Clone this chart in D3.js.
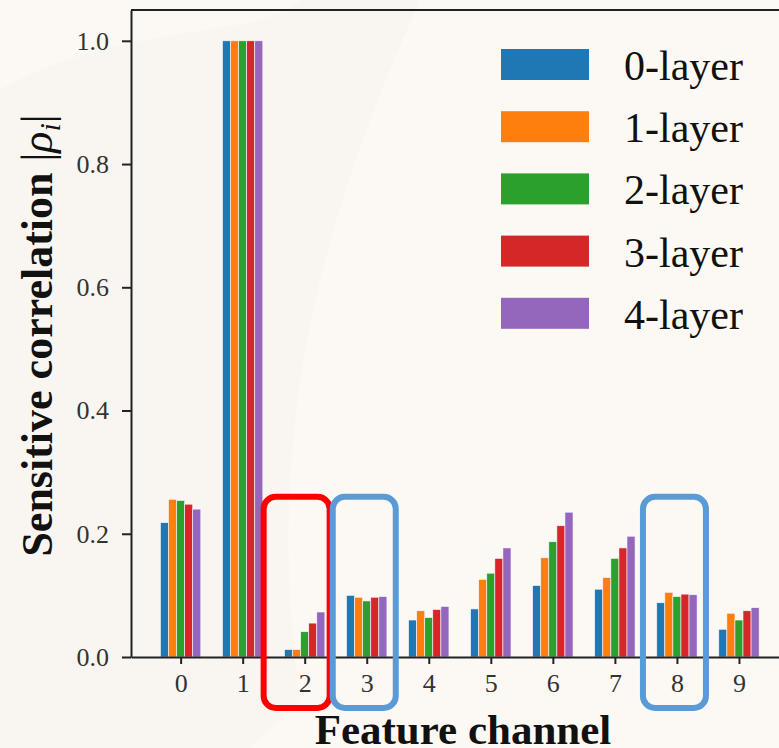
<!DOCTYPE html>
<html>
<head>
<meta charset="utf-8">
<script src="https://cdn.jsdelivr.net/npm/d3@7"></script>
<style>
  html, body { margin: 0; padding: 0; background: #fcf9f4; }
  #chart svg { display: block; }
  .axis path, .axis line { stroke: #222; stroke-width: 2px; }
</style>
</head>
<body>
<div id="chart"></div>
<script>
// values
var channels = [0, 1, 2, 3, 4, 5, 6, 7, 8, 9];
var layers = ["0-layer", "1-layer", "2-layer", "3-layer", "4-layer"];
var layer0 = [0.218, 1.0, 0.012, 0.100, 0.060, 0.078, 0.116, 0.110, 0.088, 0.045];
var layer1 = [0.256, 1.0, 0.012, 0.097, 0.075, 0.126, 0.161, 0.129, 0.105, 0.071];
var layer2 = [0.254, 1.0, 0.041, 0.091, 0.064, 0.136, 0.187, 0.160, 0.098, 0.060];
var layer3 = [0.248, 1.0, 0.055, 0.097, 0.077, 0.160, 0.213, 0.177, 0.102, 0.075];
var layer4 = [0.240, 1.0, 0.073, 0.098, 0.082, 0.177, 0.235, 0.196, 0.101, 0.080];
var yTicks = [0.0, 0.2, 0.4, 0.6, 0.8, 1.0];
var redBoxes = [2];
var blueBoxes = [3, 8];

(function(d3) {
	var widthSVG = 779;
	var heightSVG = 748;
	var left = 131, right = 788.6, top = 10, bottom = 657;
	var barWidth = 0.13;
	var serif = "Liberation Serif, Times New Roman, serif";
	var colors = ["#1f77b4", "#ff7f0e", "#2ca02c", "#d62728", "#9467bd"];
	var series = [layer0, layer1, layer2, layer3, layer4];

	var svg = d3.select("#chart")
		.append("svg")
		.attr("width", widthSVG)
		.attr("height", heightSVG);

	svg.append("rect")
		.attr("width", widthSVG)
		.attr("height", heightSVG)
		.attr("fill", "#fcf9f4");

	// faint watermark swooshes in the background
	svg.append("path")
		.attr("d", "M0,90 C120,20 260,40 300,0 L420,0 C330,200 260,420 300,700 L250,748 L0,748 Z")
		.attr("fill", "#f6f4f0")
		.attr("opacity", 0.6);

	var xScale = d3.scaleLinear()
		.domain([-0.8, 9.8])
		.range([left, right]);

	var yScale = d3.scaleLinear()
		.domain([0, 1.05])
		.range([bottom, top]);

	var pxPerUnit = xScale(1) - xScale(0);

// BARS
	var data = [];
	series.forEach(function(s, j) {
		s.forEach(function(v, i) {
			data.push({ layer: j, channel: channels[i], value: v });
		});
	});

	svg.selectAll("rect.bar")
		.data(data)
		.enter()
		.append("rect")
		.attr("class", "bar")
		.attr("x", function(d) { return xScale(d.channel + (d.layer - 2.5) * barWidth); })
		.attr("y", function(d) { return yScale(d.value); })
		.attr("width", barWidth * pxPerUnit)
		.attr("height", function(d) { return yScale(0) - yScale(d.value); })
		.attr("fill", function(d) { return colors[d.layer]; })
		.attr("stroke", "#fbf6ff")
		.attr("stroke-width", 0.6);

// AXIS X
	var xAxis = d3.axisBottom(xScale)
		.tickValues(channels)
		.tickFormat(d3.format("d"))
		.tickSizeInner(7)
		.tickSizeOuter(0)
		.tickPadding(10);

	svg.append("g")
		.attr("class", "axis")
		.attr("transform", "translate(0," + bottom + ")")
		.call(xAxis)
		.selectAll("text")
		.attr("font-family", serif)
		.attr("font-size", "26px")
		.attr("fill", "#333");

// AXIS Y
	var yAxis = d3.axisLeft(yScale)
		.tickValues(yTicks)
		.tickFormat(d3.format(".1f"))
		.tickSizeInner(9)
		.tickSizeOuter(0)
		.tickPadding(13);

	svg.append("g")
		.attr("class", "axis")
		.attr("transform", "translate(" + left + ",0)")
		.call(yAxis)
		.selectAll("text")
		.attr("font-family", serif)
		.attr("font-size", "26px")
		.attr("fill", "#333");

	// top spine
	svg.append("line")
		.attr("x1", left).attr("x2", right)
		.attr("y1", top).attr("y2", top)
		.attr("stroke", "#222")
		.attr("stroke-width", 2);

// LABELS
	svg.append("text")
		.attr("x", 463)
		.attr("y", 744)
		.attr("text-anchor", "middle")
		.attr("font-family", serif)
		.attr("font-weight", "bold")
		.attr("font-size", "43px")
		.attr("fill", "#111")
		.text("Feature channel");

	var yl = svg.append("text")
		.attr("transform", "translate(52," + ((top + bottom) / 2 + 2) + ") rotate(-90)")
		.attr("text-anchor", "middle")
		.attr("font-family", serif)
		.attr("font-size", "44px")
		.attr("fill", "#111");
	yl.append("tspan").attr("font-weight", "bold").text("Sensitive correlation ");
	yl.append("tspan").text("|");
	yl.append("tspan").attr("font-style", "italic").text("ρ");
	yl.append("tspan").attr("font-style", "italic").attr("font-size", "30px").attr("dy", 8).text("i");
	yl.append("tspan").attr("dy", -8).text("|");

// LEGEND
	var legend = svg.selectAll("g.legend")
		.data(layers)
		.enter()
		.append("g")
		.attr("class", "legend")
		.attr("transform", function(d, i) { return "translate(501," + (49 + i * 62.2) + ")"; });

	legend.append("rect")
		.attr("width", 88)
		.attr("height", 31)
		.attr("fill", function(d, i) { return colors[i]; });

	legend.append("text")
		.attr("x", 123)
		.attr("y", 31)
		.attr("font-family", serif)
		.attr("font-size", "42px")
		.attr("fill", "#111")
		.text(function(d) { return d; });

// HIGHLIGHT BOXES
	var boxes = redBoxes.map(function(c) { return { channel: c, color: "#ff0000", dx: -0.13, w: 66 }; })
		.concat(blueBoxes.map(function(c) { return { channel: c, color: "#5b9bd5", dx: -0.04, w: 63 }; }));

	svg.selectAll("rect.box")
		.data(boxes)
		.enter()
		.append("rect")
		.attr("class", "box")
		.attr("x", function(d) { return xScale(d.channel + d.dx) - d.w / 2; })
		.attr("y", yScale(0.26))
		.attr("width", function(d) { return d.w; })
		.attr("height", yScale(0) - yScale(0.26) + 51)
		.attr("rx", 12)
		.attr("fill", "none")
		.attr("stroke", function(d) { return d.color; })
		.attr("stroke-width", 6);
})(window.d3);
</script>
</body>
</html>
